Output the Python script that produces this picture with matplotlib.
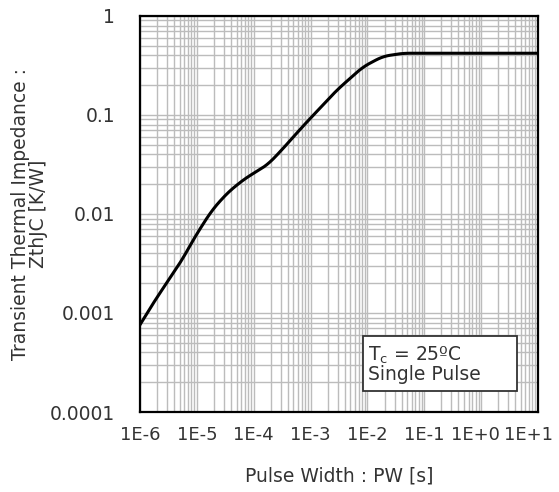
import numpy as np
import matplotlib.pyplot as plt
import matplotlib.patches as mpatches
import matplotlib.transforms as mtransforms
from matplotlib.ticker import LogLocator, FixedLocator, NullFormatter

plt.rcParams['font.family'] = ['DejaVu Sans']

# curve (pulse width [s], ZthJC [K/W])
pw = [1e-6, 1.82e-6, 3.1e-6, 5.5e-6, 9.3e-6, 1.86e-5, 3.55e-5, 7.1e-5, 9.3e-5,
      1.78e-4, 3.16e-4, 7.2e-4, 2.9e-3, 8.3e-3, 1.86e-2, 4.2e-2, 1e-1, 1e1]
zth = [0.00076, 0.00133, 0.0021, 0.00343, 0.0059, 0.011, 0.0166, 0.0229, 0.0251,
       0.0316, 0.0447, 0.076, 0.178, 0.305, 0.39, 0.42, 0.42, 0.42]

xticks = [1e-6, 1e-5, 1e-4, 1e-3, 1e-2, 1e-1, 1e0, 1e1]
xlabels = ['1E-6', '1E-5', '1E-4', '1E-3', '1E-2', '1E-1', '1E+0', '1E+1']
yticks = [1e-4, 1e-3, 1e-2, 1e-1, 1]
ylabels = ['0.0001', '0.001', '0.01', '0.1', '1']

txt = '#333333'
fs = 13.5

fig = plt.figure(figsize=(5.59, 4.92), dpi=100)
ax = fig.add_axes([0.2504, 0.1626, 0.712, 0.805])

ax.set_xscale('log')
ax.set_yscale('log')
ax.set_xlim(1e-6, 1e1)
ax.set_ylim(1e-4, 1)

# smoothing of the read points in log space
lx = np.log10(pw)
ly = np.log10(zth)
fx = np.linspace(lx[0], lx[-1], 700)
fy = np.interp(fx, lx, ly)
k = np.ones(25) / 25
fy_s = np.convolve(np.pad(fy, 12, mode='reflect', reflect_type='odd'), k, mode='valid')
ax.plot(10 ** fx, 10 ** fy_s, color='black', lw=2.2, zorder=3)

ax.xaxis.set_major_locator(FixedLocator(xticks))
ax.yaxis.set_major_locator(FixedLocator(yticks))
ax.set_xticklabels(xlabels)
ax.set_yticklabels(ylabels)
ax.xaxis.set_minor_locator(LogLocator(base=10, subs=np.arange(2, 10), numticks=20))
ax.yaxis.set_minor_locator(LogLocator(base=10, subs=np.arange(2, 10), numticks=20))
ax.xaxis.set_minor_formatter(NullFormatter())
ax.yaxis.set_minor_formatter(NullFormatter())

ax.grid(which='both', color='#bcbcbc', lw=1.0)
ax.tick_params(which='both', length=0, colors=txt)
ax.tick_params(axis='x', pad=10, labelsize=13)
ax.tick_params(axis='y', pad=18, labelsize=fs)
for s in ax.spines.values():
    s.set_linewidth(1.6)
    s.set_color('black')
    s.set_zorder(5)

# the last two x labels sit a little left in the original
xl = ax.get_xticklabels()
for lab, dx in [(xl[-2], -6), (xl[-1], -9)]:
    lab.set_transform(lab.get_transform() +
                      mtransforms.ScaledTranslation(dx / 100, 0, fig.dpi_scale_trans))

ax.set_xlabel('Pulse Width : PW [s]', fontsize=fs, color=txt, va='center')
ax.xaxis.set_label_coords(0.5, -0.162)
ax.set_ylabel('Transient Thermal Impedance :\nZthJC [K/W]', fontsize=fs,
              color=txt, va='center', linespacing=0.95)
ax.yaxis.set_label_coords(-0.278, 0.5)

# note box
ax.add_patch(mpatches.Rectangle((0.560, 0.053), 0.387, 0.139, transform=ax.transAxes,
                                fc='white', ec='#333333', lw=1.3, zorder=4))
ax.text(0.572, 0.12, 'T$_\\mathregular{c}$ = 25ºC\nSingle Pulse', fontsize=fs,
        color=txt, va='center', ha='left', zorder=5, linespacing=0.95,
        transform=ax.transAxes)

fig.savefig('out.png', dpi=100)
